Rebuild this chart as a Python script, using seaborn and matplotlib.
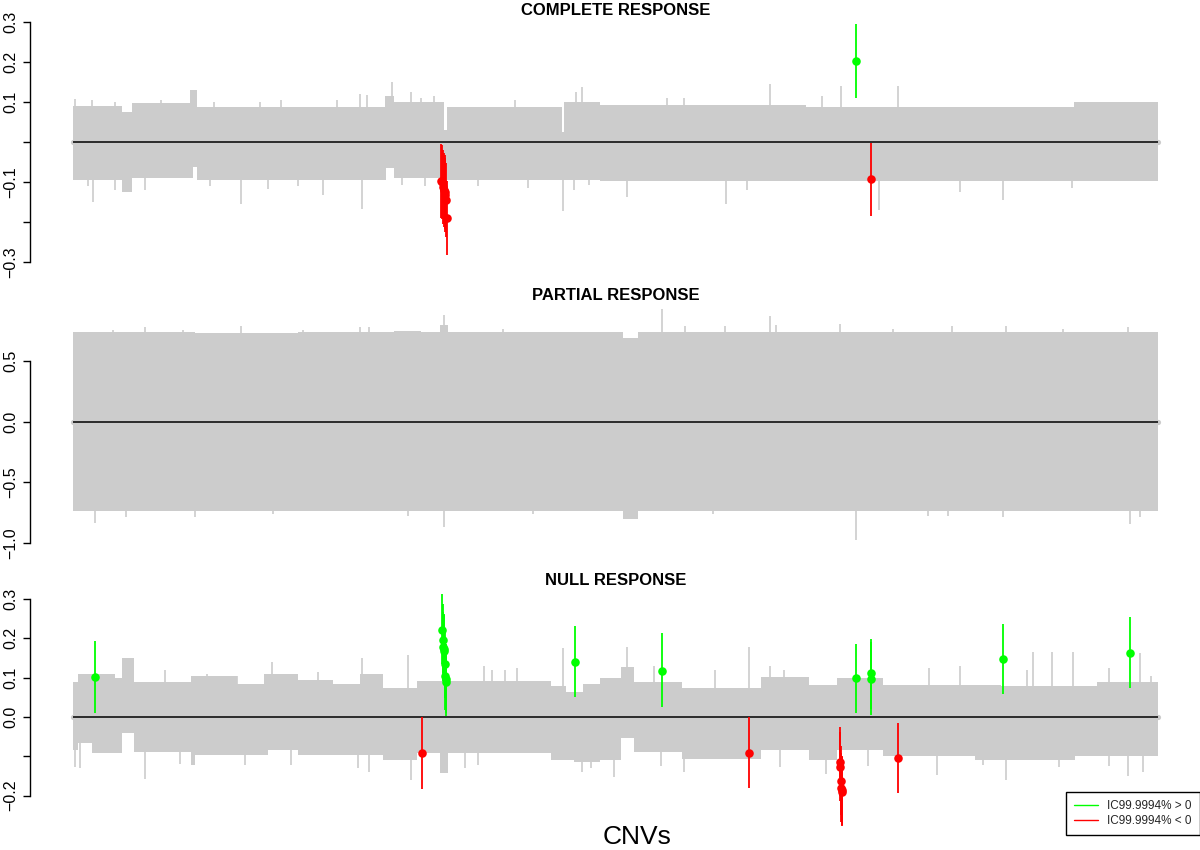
import matplotlib
matplotlib.use("Agg")
import matplotlib.pyplot as plt
import seaborn as sns
import pandas as pd
from matplotlib.lines import Line2D

sns.set_theme(style="white")
plt.rcParams["font.family"] = ["Liberation Sans", "DejaVu Sans"]

# ---------------- data (CNV index along x, effect on y) ----------------
N_CNV = 1085

titles = ["COMPLETE RESPONSE", "PARTIAL RESPONSE", "NULL RESPONSE"]
legend_labels = ["IC99.9994% > 0", "IC99.9994% < 0"]
x_label = "CNVs"

# Panel 1: COMPLETE RESPONSE -- grey band of all CNV intervals (step envelope)
cr_upper_x = [0, 49, 59, 117, 124, 199, 312, 321, 371, 374, 489, 491, 527, 733, 1001]
cr_upper_v = [0.090, 0.076, 0.097, 0.130, 0.088, 0.087, 0.115, 0.100, 0.030, 0.087, 0.026, 0.100, 0.093, 0.087, 0.100]
cr_lower_x = [0, 49, 59, 120, 124, 313, 321, 371, 374, 527]
cr_lower_v = [-0.095, -0.124, -0.090, -0.062, -0.095, -0.066, -0.090, -0.100, -0.095, -0.098]
cr_spike_up_x = [2, 19, 42, 88, 141, 187, 208, 264, 287, 294, 319, 338, 348, 361, 442,
                 503, 509, 594, 611, 697, 749, 768, 825]
cr_spike_up_v = [0.107, 0.105, 0.100, 0.105, 0.100, 0.100, 0.105, 0.105, 0.120, 0.117, 0.150, 0.126, 0.110, 0.115, 0.105,
                 0.125, 0.138, 0.110, 0.110, 0.145, 0.115, 0.140, 0.140]
cr_spike_dn_x = [15, 20, 42, 55, 72, 137, 168, 195, 225, 250, 289, 329, 352, 405, 455, 490, 501, 516,
                 554, 653, 674, 806, 887, 930, 999]
cr_spike_dn_v = [-0.110, -0.149, -0.120, -0.125, -0.120, -0.110, -0.155, -0.117, -0.110, -0.133, -0.168, -0.107, -0.110, -0.110, -0.115, -0.172, -0.120, -0.107,
                 -0.137, -0.155, -0.120, -0.170, -0.125, -0.146, -0.115]
cr_pos_x = [783]
cr_pos_est = [0.202]
cr_pos_lo = [0.109]
cr_pos_hi = [0.295]
cr_neg_x = [368, 369, 370, 371, 371.5, 372, 373, 374, 798]
cr_neg_est = [-0.098, -0.100, -0.112, -0.120, -0.125, -0.133, -0.145, -0.190, -0.093]
cr_neg_lo = [-0.190, -0.192, -0.205, -0.212, -0.217, -0.225, -0.237, -0.283, -0.185]
cr_neg_hi = [-0.005, -0.008, -0.020, -0.028, -0.033, -0.041, -0.053, -0.097, -0.003]

# Panel 2: PARTIAL RESPONSE
pr_upper_x = [0, 122, 225, 321, 348, 367, 375, 550, 565]
pr_upper_v = [0.743, 0.735, 0.743, 0.750, 0.743, 0.800, 0.743, 0.690, 0.743]
pr_lower_x = [0, 550, 565]
pr_lower_v = [-0.737, -0.800, -0.735]
pr_spike_up_x = [40, 72, 110, 168, 230, 287, 296, 371, 430, 589, 612, 652, 697, 703, 767, 820, 879, 933, 990, 1055]
pr_spike_up_v = [0.760, 0.785, 0.760, 0.790, 0.760, 0.785, 0.780, 0.880, 0.765, 0.930, 0.790, 0.790, 0.870, 0.800, 0.810, 0.765, 0.790, 0.790, 0.765, 0.780]
pr_spike_dn_x = [22, 53, 122, 200, 335, 371, 460, 640, 783, 855, 875, 930, 1057, 1067]
pr_spike_dn_v = [-0.840, -0.790, -0.790, -0.760, -0.780, -0.867, -0.760, -0.765, -0.977, -0.780, -0.780, -0.790, -0.845, -0.790]
pr_pos_x, pr_pos_est, pr_pos_lo, pr_pos_hi = [], [], [], []
pr_neg_x, pr_neg_est, pr_neg_lo, pr_neg_hi = [], [], [], []

# Panel 3: NULL RESPONSE
nr_upper_x = [0, 5, 42, 49, 61, 118, 164, 191, 225, 260, 287, 310, 344, 478, 493, 510, 527, 548, 561, 609, 688, 736, 764, 810, 928, 1024]
nr_upper_v = [0.090, 0.109, 0.100, 0.149, 0.090, 0.105, 0.084, 0.110, 0.095, 0.084, 0.110, 0.073, 0.092, 0.078, 0.064, 0.085, 0.099, 0.128, 0.090, 0.073, 0.103, 0.081, 0.098, 0.081, 0.078, 0.090]
nr_lower_x = [0, 5, 19, 49, 61, 118, 122, 195, 225, 310, 344, 367, 375, 478, 501, 527, 548, 561, 609, 688, 736, 764, 810, 902, 1002]
nr_lower_v = [-0.084, -0.067, -0.092, -0.041, -0.090, -0.122, -0.097, -0.085, -0.097, -0.109, -0.091, -0.143, -0.091, -0.109, -0.114, -0.110, -0.054, -0.090, -0.108, -0.083, -0.110, -0.085, -0.100, -0.110, -0.100]
nr_spike_up_x = [92, 134, 164, 199, 245, 289, 335, 411, 419, 432, 444, 490, 554, 581, 642, 676, 697, 711,
                 856, 887, 954, 960, 979, 1000, 1036, 1067, 1078]
nr_spike_up_v = [0.120, 0.110, 0.105, 0.140, 0.115, 0.150, 0.158, 0.130, 0.120, 0.120, 0.125, 0.175, 0.177, 0.130, 0.120, 0.177, 0.130, 0.120,
                 0.125, 0.130, 0.120, 0.166, 0.166, 0.166, 0.125, 0.163, 0.105]
nr_spike_dn_x = [2, 7, 72, 107, 172, 218, 285, 296, 338, 392, 405, 509, 518, 541, 588, 611, 707, 753, 795,
                 864, 910, 933, 986, 1036, 1055, 1070]
nr_spike_dn_v = [-0.126, -0.131, -0.159, -0.120, -0.122, -0.121, -0.131, -0.139, -0.160, -0.131, -0.122, -0.140, -0.130, -0.152, -0.124, -0.140, -0.126, -0.145, -0.124,
                 -0.147, -0.122, -0.160, -0.126, -0.124, -0.150, -0.140]
nr_pos_x = [22, 369, 369.5, 370, 370.5, 371, 371.5, 372, 372.5, 373, 502, 589, 783, 798, 798, 930, 1057]
nr_pos_est = [0.101, 0.221, 0.196, 0.177, 0.172, 0.168, 0.134, 0.104, 0.096, 0.088, 0.141, 0.118, 0.098, 0.111, 0.097, 0.148, 0.164]
nr_pos_lo = [0.009, 0.136, 0.111, 0.092, 0.087, 0.083, 0.049, 0.019, 0.011, 0.003, 0.052, 0.025, 0.009, 0.020, 0.005, 0.059, 0.075]
nr_pos_hi = [0.193, 0.312, 0.287, 0.268, 0.263, 0.259, 0.225, 0.195, 0.187, 0.179, 0.232, 0.213, 0.187, 0.199, 0.190, 0.237, 0.254]
nr_neg_x = [349, 676, 767, 767.5, 768, 768.5, 769, 769.5, 825]
nr_neg_est = [-0.092, -0.091, -0.114, -0.126, -0.162, -0.180, -0.187, -0.190, -0.104]
nr_neg_lo = [-0.182, -0.181, -0.201, -0.213, -0.249, -0.267, -0.274, -0.277, -0.193]
nr_neg_hi = [-0.001, -0.001, -0.025, -0.037, -0.073, -0.091, -0.098, -0.101, -0.016]

# axis ticks and labels
cr_ticks = [-0.3, -0.2, -0.1, 0.0, 0.1, 0.2, 0.3]
cr_tick_labels = ["\u22120.3", "", "\u22120.1", "", "0.1", "0.2", "0.3"]
pr_ticks = [-1.0, -0.5, 0.0, 0.5]
pr_tick_labels = ["\u22121.0", "\u22120.5", "0.0", "0.5"]
nr_ticks = [-0.2, -0.1, 0.0, 0.1, 0.2, 0.3]
nr_tick_labels = ["\u22120.2", "", "0.0", "0.1", "0.2", "0.3"]

# ---------------- styling ----------------
GREY = "#CCCCCC"
GREEN = "#00FF00"
RED = "#FF0000"
W, H = 1200, 850

fig = plt.figure(figsize=(12, 8.5), dpi=100)
fig.patch.set_facecolor("white")


def add_axes_px(top, bottom, left=30, right=1200):
    return fig.add_axes([left / W, 1 - bottom / H, (right - left) / W, (bottom - top) / H])


def step(xs, vs):
    return list(xs) + [N_CNV], list(vs) + [vs[-1]]


def draw_panel(ax, upx, upv, lox, lov, sux, suv, sdx, sdv,
               px, pe, plo, phi, nx, ne, nlo, nhi,
               ylim, ticks, labels):
    ux, uv = step(upx, upv)
    lx, lv = step(lox, lov)
    ax.fill_between(ux, 0, uv, step="post", color=GREY, lw=0, zorder=1)
    ax.fill_between(lx, lv, 0, step="post", color=GREY, lw=0, zorder=1)
    ax.vlines(sux, 0, suv, color=GREY, lw=1.2, zorder=1)
    ax.vlines(sdx, sdv, 0, color=GREY, lw=1.2, zorder=1)
    ax.hlines(0, 0, N_CNV, color="black", lw=1.1, zorder=2)
    sns.scatterplot(x=[0, N_CNV], y=[0, 0], color=GREY, s=14, linewidth=0,
                    ax=ax, zorder=1.5, legend=False)
    if px:
        ax.vlines(px, plo, phi, color=GREEN, lw=1.3, zorder=3)
        sns.scatterplot(x=px, y=pe, color=GREEN, s=38, linewidth=0, ax=ax,
                        zorder=4, legend=False)
    if nx:
        ax.vlines(nx, nlo, nhi, color=RED, lw=1.3, zorder=3)
        sns.scatterplot(x=nx, y=ne, color=RED, s=38, linewidth=0, ax=ax,
                        zorder=4, legend=False)
    pad = 0.04 * N_CNV
    ax.set_xlim(-pad, N_CNV + pad * 0.98)
    ax.set_ylim(*ylim)
    ax.set_xticks([])
    ax.set_yticks(ticks)
    ax.set_yticklabels(labels)
    for lab in ax.get_yticklabels():
        lab.set_rotation(90)
        lab.set_va("center")
    ax.tick_params(axis="y", left=True, direction="out", length=5, width=1,
                   color="black", labelsize=11.5, pad=3.5, labelcolor="black")
    for s in ["top", "right", "bottom"]:
        ax.spines[s].set_visible(False)
    ax.spines["left"].set_color("black")
    ax.spines["left"].set_linewidth(1)
    ax.spines["left"].set_bounds(ticks[0], ticks[-1])
    ax.set_facecolor("white")
    ax.grid(False)
    ax.set_xlabel("")
    ax.set_ylabel("")


ax1 = add_axes_px(12, 272)
draw_panel(ax1, cr_upper_x, cr_upper_v, cr_lower_x, cr_lower_v,
           cr_spike_up_x, cr_spike_up_v, cr_spike_dn_x, cr_spike_dn_v,
           cr_pos_x, cr_pos_est, cr_pos_lo, cr_pos_hi,
           cr_neg_x, cr_neg_est, cr_neg_lo, cr_neg_hi,
           (-0.325, 0.325), cr_ticks, cr_tick_labels)

ax2 = add_axes_px(300.6, 552.5)
draw_panel(ax2, pr_upper_x, pr_upper_v, pr_lower_x, pr_lower_v,
           pr_spike_up_x, pr_spike_up_v, pr_spike_dn_x, pr_spike_dn_v,
           pr_pos_x, pr_pos_est, pr_pos_lo, pr_pos_hi,
           pr_neg_x, pr_neg_est, pr_neg_lo, pr_neg_hi,
           (-1.08, 1.0), pr_ticks, pr_tick_labels)

ax3 = add_axes_px(587.3, 834.9)
draw_panel(ax3, nr_upper_x, nr_upper_v, nr_lower_x, nr_lower_v,
           nr_spike_up_x, nr_spike_up_v, nr_spike_dn_x, nr_spike_dn_v,
           nr_pos_x, nr_pos_est, nr_pos_lo, nr_pos_hi,
           nr_neg_x, nr_neg_est, nr_neg_lo, nr_neg_hi,
           (-0.30, 0.33), nr_ticks, nr_tick_labels)

# panel titles (bold, centred over the data range)
for t, ybase in zip(titles, [15, 300, 585]):
    fig.text(615.5 / W, 1 - ybase / H, t, ha="center", va="baseline",
             fontsize=12, fontweight="bold", color="black")

# x label
fig.text(637 / W, 1 - 844 / H, x_label, ha="center", va="baseline",
         fontsize=19, color="black")

# legend
handles = [Line2D([0], [0], color=GREEN, lw=1), Line2D([0], [0], color=RED, lw=1)]
leg = fig.legend(handles, legend_labels, loc="lower right",
                 bbox_to_anchor=(1.0, 1 - 835 / H), fontsize=8.5,
                 frameon=True, fancybox=False, framealpha=1, edgecolor="black",
                 handlelength=2.0, handletextpad=0.8, labelspacing=0.2,
                 borderpad=0.7, borderaxespad=0)
leg.get_frame().set_linewidth(1)

fig.savefig("out.png", dpi=100, facecolor="white")
